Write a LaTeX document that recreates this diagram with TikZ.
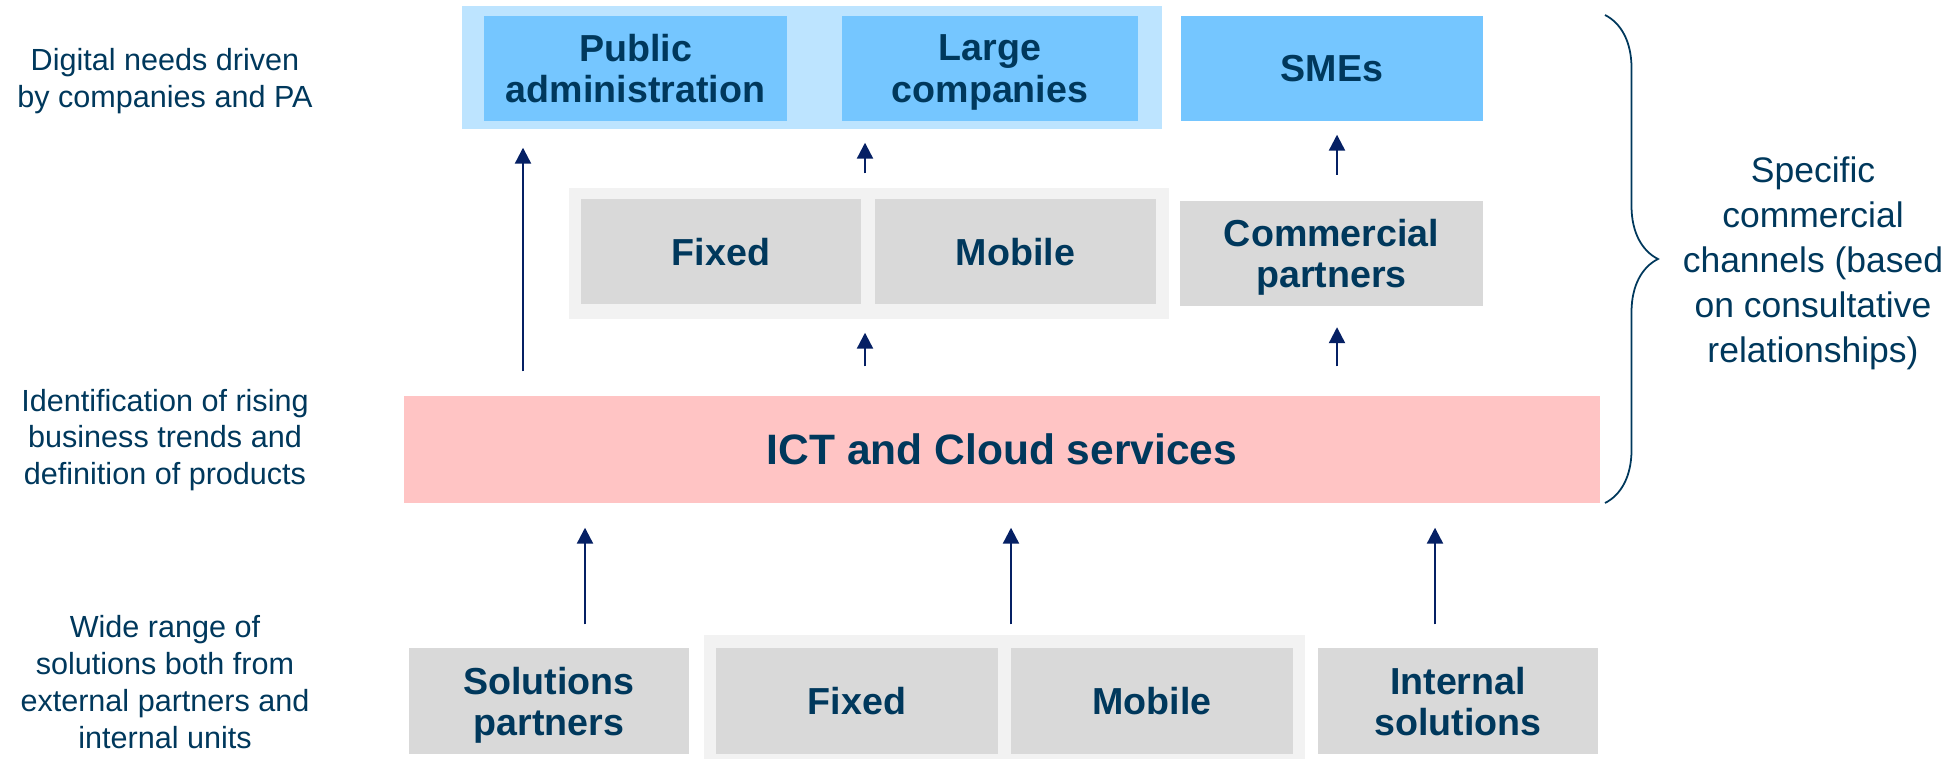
\documentclass[tikz,border=0pt]{standalone}
\usepackage{fontspec}
\setmainfont{Liberation Sans}
\usepackage{xcolor}
\usetikzlibrary{arrows.meta, positioning, decorations.pathreplacing}

\definecolor{navy}{RGB}{0,56,92}
\definecolor{arrnavy}{RGB}{5,32,100}
\definecolor{skyblue}{RGB}{117,198,255}
\definecolor{paleblue}{RGB}{189,228,255}
\definecolor{boxgray}{RGB}{217,217,217}
\definecolor{palegray}{RGB}{242,242,242}
\definecolor{rosepink}{RGB}{255,196,196}

\begin{document}
\begin{tikzpicture}[
    grp/.style={rectangle, inner sep=0pt},
    box/.style={rectangle, minimum width=2.81cm, minimum height=1.05cm, inner sep=0pt, align=center, text depth=0pt, text=navy, font=\fontsize{10.7}{11.7}\selectfont\bfseries},
    arr/.style={-{Triangle[length=1.6mm, width=1.6mm]}, draw=arrnavy, line width=0.65pt},
    note/.style={align=center, text=navy, font=\fontsize{8.7}{10.5}\selectfont},
    side/.style={align=center, text=navy, font=\fontsize{10.1}{12.8}\selectfont},
    brace/.style={decorate, decoration={brace, amplitude=5.3mm}, draw=navy, line width=0.5pt}
]
\useasboundingbox (0,0) rectangle (19.6,-7.59);

% Customers
\node[grp, fill=paleblue, minimum width=7cm, minimum height=1.23cm] (topgrp) at (8.12,-0.675) {};
\node[box, fill=skyblue, minimum width=3.03cm] (pa) at (6.355,-0.685) {Public\\administration};
\node[box, fill=skyblue, minimum width=2.96cm] (lc) at (9.90,-0.685) {Large\\companies};
\node[box, fill=skyblue, minimum width=3.02cm] (sme) at (13.32,-0.685) {SMEs};

% Channels
\node[grp, fill=palegray, minimum width=6cm, minimum height=1.31cm] (midgrp) at (8.69,-2.535) {};
\node[box, fill=boxgray, minimum width=2.80cm] (fix1) at (7.21,-2.515) {Fixed};
\node[box, fill=boxgray] (mob1) at (10.155,-2.515) {Mobile};
\node[box, fill=boxgray, minimum width=3.03cm] (comm) at (13.315,-2.53) {Commercial\\partners};

% Services
\node[box, fill=rosepink, minimum width=11.96cm, minimum height=1.07cm, font=\fontsize{12.1}{14}\selectfont\bfseries] (ict) at (10.02,-4.495) {ICT and Cloud services};

% Sources
\node[grp, fill=palegray, minimum width=6.01cm, minimum height=1.24cm] (botgrp) at (10.045,-6.97) {};
\node[box, fill=boxgray, minimum width=2.80cm, minimum height=1.06cm] (sol) at (5.49,-7.01) {Solutions\\partners};
\node[box, fill=boxgray, minimum width=2.82cm, minimum height=1.06cm] (fix2) at (8.57,-7.01) {Fixed};
\node[box, fill=boxgray, minimum width=2.82cm, minimum height=1.06cm] (mob2) at (11.52,-7.01) {Mobile};
\node[box, fill=boxgray, minimum width=2.80cm, minimum height=1.06cm] (intl) at (14.58,-7.01) {Internal\\solutions};

% Side notes
\node[note] (n1) at (1.65,-0.81) {Digital needs driven\\by companies and PA};
\node[note] (n2) at (1.65,-4.40) {Identification of rising\\business trends and\\definition of products};
\node[note] (n3) at (1.65,-6.82) {Wide range of\\solutions both from\\external partners and\\internal units};
\node[side] (n4) at (18.13,-2.63) {Specific\\commercial\\channels (based\\on consultative\\relationships)};

% Arrows
\coordinate (c1) at (5.23,0);
\coordinate (c2) at (8.65,0);
\coordinate (c3) at (13.37,0);
\draw[arr, shorten <=2.4mm, shorten >=1.8mm] (ict.north -| c1) -- (topgrp.south -| c1);
\draw[arr, shorten <=1.4mm, shorten >=1.3mm] (midgrp.north -| c2) -- (topgrp.south -| c2);
\draw[arr, shorten <=2.9mm, shorten >=1.3mm] (ict.north -| c2) -- (midgrp.south -| c2);
\draw[arr, shorten <=2.5mm, shorten >=1.3mm] (comm.north -| c3) -- (sme.south -| c3);
\draw[arr, shorten <=2.9mm, shorten >=2.1mm] (ict.north -| c3) -- (comm.south -| c3);
\foreach \src/\x/\gap in {sol/5.85/2.3, botgrp/10.11/1.0, intl/14.35/2.3} {
    \draw[arr, shorten <=\gap mm, shorten >=2.4mm] (\src.north -| \x,0) -- (ict.south -| \x,0);
}

% Brace
\coordinate (b1) at (16.05,-0.15);
\coordinate (b2) at (16.05,-5.03);
\draw[brace] (b1) -- (b2);
\end{tikzpicture}
\end{document}
